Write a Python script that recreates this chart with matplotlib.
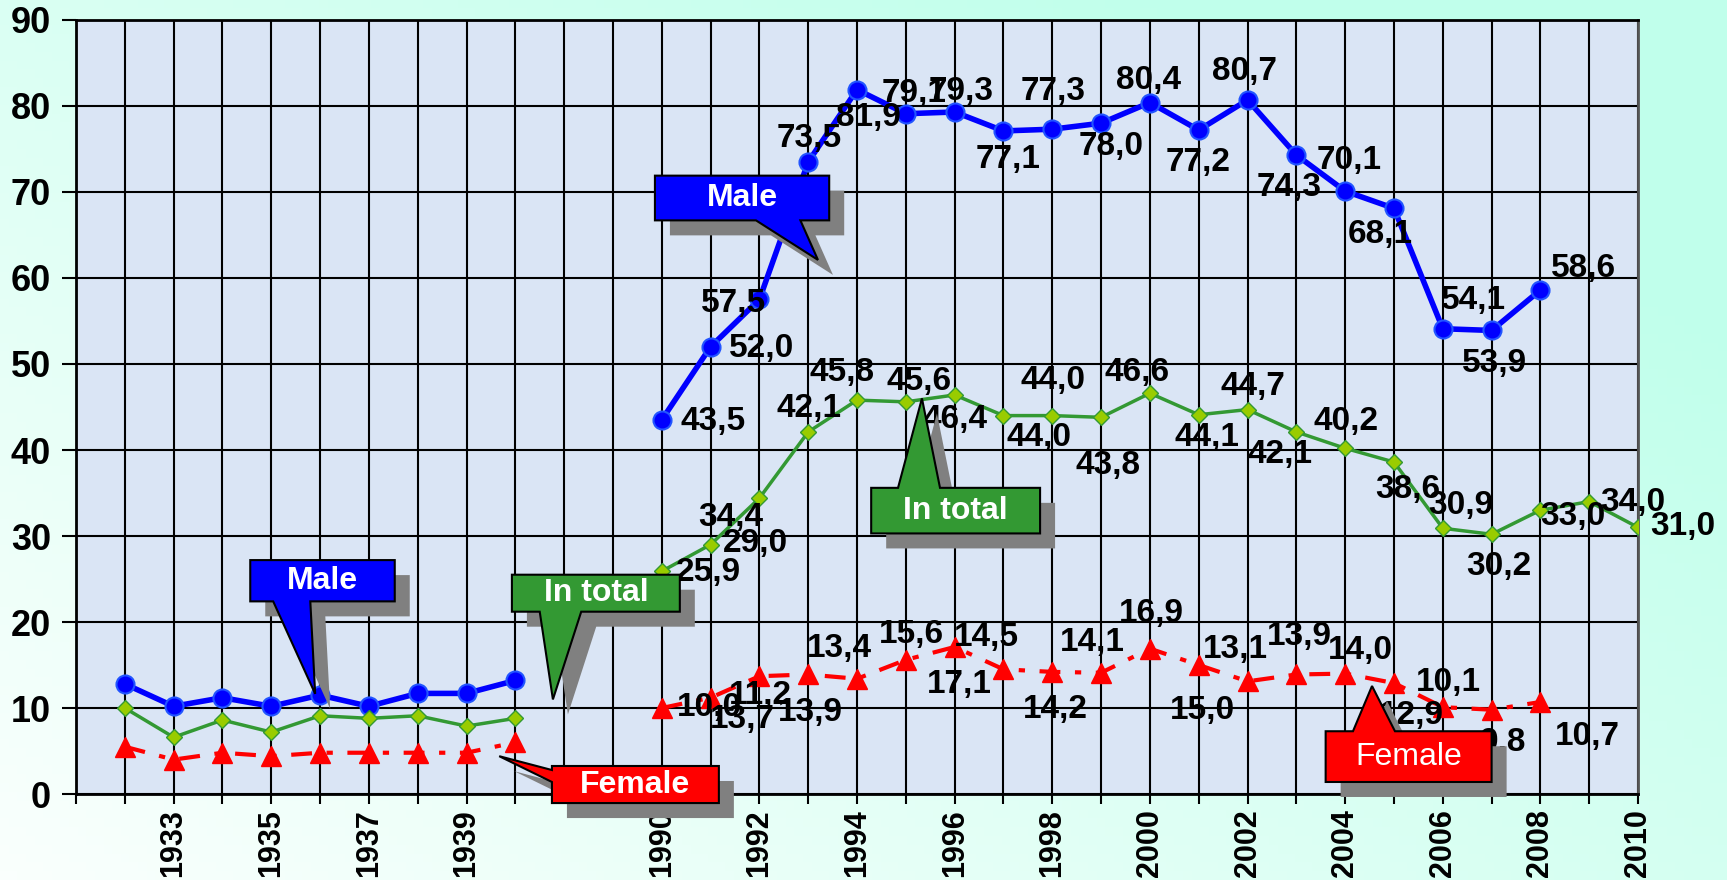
import numpy as np
import matplotlib.pyplot as plt
import matplotlib.transforms as mtransforms
from matplotlib.patches import Polygon
from matplotlib.colors import LinearSegmentedColormap

plt.rcParams['font.family'] = ['Liberation Sans', 'DejaVu Sans']

# x categories (blank slots are empty columns in the source sheet)
years_1930s = [1932, 1933, 1934, 1935, 1936, 1937, 1938, 1939, 1940]
years_recent = [1990, 1991, 1992, 1993, 1994, 1995, 1996, 1997, 1998, 1999, 2000,
                2001, 2002, 2003, 2004, 2005, 2006, 2007, 2008, 2009, 2010]
categories = [''] + [str(y) for y in years_1930s] + ['', ''] + [str(y) for y in years_recent]

male_1930s = [12.8, 10.2, 11.2, 10.2, 11.5, 10.2, 11.7, 11.7, 13.2]
total_1930s = [10.0, 6.6, 8.6, 7.2, 9.1, 8.8, 9.1, 7.9, 8.8]
female_1930s = [5.5, 4.0, 4.8, 4.4, 4.8, 4.8, 4.8, 4.8, 6.0]

male_recent = [43.5, 52.0, 57.5, 73.5, 81.9, 79.1, 79.3, 77.1, 77.3, 78.0, 80.4,
               77.2, 80.7, 74.3, 70.1, 68.1, 54.1, 53.9, 58.6, None, None]
total_recent = [25.9, 29.0, 34.4, 42.1, 45.8, 45.6, 46.4, 44.0, 44.0, 43.8, 46.6,
                44.1, 44.7, 42.1, 40.2, 38.6, 30.9, 30.2, 33.0, 34.0, 31.0]
female_recent = [10.0, 11.2, 13.7, 13.9, 13.4, 15.6, 17.1, 14.5, 14.2, 14.1, 16.9,
                 15.0, 13.1, 13.9, 14.0, 12.9, 10.1, 9.8, 10.7, None, None]

# label placement for the recent values (pixel offsets from the point)
male_offsets = [(51, -2), (51, -2), (-26, -4), (1, 23), (11, -28), (8, 20), (6, 21),
                (5, -29), (1, 38), (10, -23), (-1, 22), (-1, -32), (-3, 28), (-7, -32),
                (4, 31), (-14, -26), (31, 28), (3, -33), (43, 22)]
total_offsets = [(47, -1), (45, 1), (-29, -19), (1, 23), (-15, 28), (13, 20), (0, -25),
                 (36, -22), (1, 35), (7, -48), (-13, 21), (8, -23), (5, 23), (-16, -23),
                 (1, 27), (14, -27), (18, 23), (7, -32), (32, -6), (44, -1), (45, 1)]
female_offsets = [(48, 1), (50, 2), (-17, -43), (2, -38), (-18, 30), (6, 25), (5, -38),
                  (-17, 32), (3, -38), (-9, 30), (1, 35), (4, -45), (-12, 32), (3, 38),
                  (15, 23), (17, -32), (6, 25), (11, -33), (47, -35)]


def full_series(old, new):
    vals = [None] + old + [None, None] + new
    return np.array([np.nan if v is None else v for v in vals], dtype=float)


x = np.arange(len(categories))
male = full_series(male_1930s, male_recent)
total = full_series(total_1930s, total_recent)
female = full_series(female_1930s, female_recent)
first_recent = len(categories) - len(years_recent)

fig = plt.figure(figsize=(17.27, 8.8), dpi=100)

# mint gradient background
bg = fig.add_axes([0, 0, 1, 1], zorder=-10)
gx, gy = np.meshgrid(np.linspace(0, 1, 200), np.linspace(0, 1, 100))
grad = np.clip(0.65 * gx + 0.55 * gy, 0, 1)
cmap = LinearSegmentedColormap.from_list('mint', ['#FAFFFD', '#C0FFEB'])
bg.imshow(grad, cmap=cmap, origin='lower', aspect='auto', extent=[0, 1, 0, 1])
bg.axis('off')

ax = fig.add_axes([0.044, 0.0977, 0.9045, 0.8796])
ax.set_facecolor('#DAE5F5')

ax.plot(x, male, color='#0000FF', lw=4, marker='o', ms=13, mfc='#0000FF',
        mec='#2255FF', mew=1.5, zorder=4)
ax.plot(x, total, color='#339933', lw=2.5, marker='D', ms=8.5, mfc='#99CC00',
        mec='#339933', mew=1, zorder=4)
ax.plot(x, female, color='#FF0000', lw=3, dashes=(5, 3.5, 1.5, 3.5), marker='^', ms=15,
        mfc='#FF0000', mec='#FF0000', zorder=5)

for series, offsets in [(male, male_offsets), (total, total_offsets), (female, female_offsets)]:
    for i, (dx, dy) in enumerate(offsets):
        xi = first_recent + i
        v = series[xi]
        ax.annotate(f'{v:.1f}'.replace('.', ','), (xi, v), xytext=(dx, dy),
                    textcoords='offset pixels', ha='center', va='center',
                    fontsize=24, fontweight='bold', color='black', zorder=6)

ax.set_xlim(0, len(categories) - 1)
ax.set_ylim(0, 90)
ax.set_yticks(range(0, 91, 10))
ax.set_xticks(x)
ax.set_xticklabels([c if i % 2 == 0 else '' for i, c in enumerate(categories)],
                   rotation=90, fontsize=22, fontweight='bold')
for lab in ax.get_yticklabels():
    lab.set_fontsize(26)
    lab.set_fontweight('bold')
ax.tick_params(axis='y', length=10, width=1.5, pad=8)
ax.tick_params(axis='x', length=7, width=1.5, pad=4)
ax.grid(True, color='black', lw=1.5)
ax.set_axisbelow(True)
for s in ['left', 'bottom', 'top']:
    ax.spines[s].set_linewidth(2)
    ax.spines[s].set_color('black')
ax.spines['right'].set_color('#555555')
ax.spines['right'].set_linewidth(2)

shadow_tr = ax.transData + mtransforms.ScaledTranslation(0.15, -0.15, fig.dpi_scale_trans)


def callout(box, side, base, tip, text, color, weight='bold'):
    x0, x1, y0, y1 = box
    if side == 'bottom':
        pts = [(x0, y1), (x1, y1), (x1, y0), (base[1], y0), tip, (base[0], y0), (x0, y0)]
    elif side == 'top':
        pts = [(x0, y0), (x1, y0), (x1, y1), (base[1], y1), tip, (base[0], y1), (x0, y1)]
    else:
        pts = [(x0, y1), (x1, y1), (x1, y0), (x0, y0), (x0, base[0]), tip, (x0, base[1])]
    ax.add_patch(Polygon(pts, closed=True, fc='#808080', ec='none',
                         transform=shadow_tr, clip_on=False, zorder=7))
    ax.add_patch(Polygon(pts, closed=True, fc=color, ec='black', lw=1.5,
                         clip_on=False, zorder=8))
    ax.text((x0 + x1) / 2, (y0 + y1) / 2, text, ha='center', va='center',
            color='white', fontsize=23, fontweight=weight, zorder=9, clip_on=False)


callout((11.86, 15.43, 66.7, 71.9), 'bottom', (13.93, 14.84), (15.2, 62.1), 'Male', '#0000FF')
callout((3.57, 6.53, 22.4, 27.2), 'bottom', (4.04, 4.8), (4.9, 11.65), 'Male', '#0000FF')
callout((8.93, 12.37, 21.2, 25.5), 'bottom', (9.5, 10.35), (9.77, 11.0), 'In total', '#339933')
callout((9.75, 13.17, -1.05, 3.26), 'left', (1.4, 2.79), (8.67, 4.4), 'Female', '#FF0000')
callout((16.29, 19.75, 30.3, 35.6), 'top', (16.84, 17.7), (17.33, 46.0), 'In total', '#339933')
callout((25.6, 29.0, 1.4, 7.3), 'top', (26.16, 27.02), (26.55, 12.56), 'Female', '#FF0000',
        weight='normal')

fig.savefig('out.png', dpi=100)
